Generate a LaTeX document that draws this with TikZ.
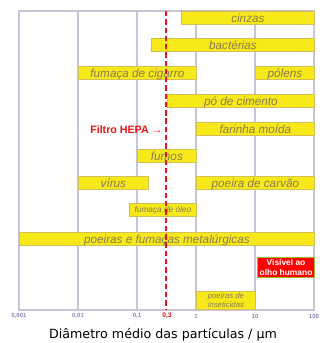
\documentclass[tikz,border=0pt]{standalone}
\usepackage{fontspec}
\setmainfont{Liberation Sans}
\newfontfamily\titlefont{DejaVu Sans}

\definecolor{barfill}{HTML}{F7E81A}
\definecolor{bardraw}{HTML}{D2C158}
\definecolor{bartext}{HTML}{8A7C55}
\definecolor{gridline}{HTML}{C9C3DA}
\definecolor{axistext}{HTML}{8585B5}
\definecolor{hepared}{HTML}{EE1111}
\definecolor{visgreen}{HTML}{9DBB2A}

\begin{document}
\begin{tikzpicture}[
  x=0.75pt, y=-0.75pt,
  barra/.style={rectangle, draw=bardraw, fill=barfill, line width=0.6pt, anchor=north west, inner sep=0pt, minimum height=9.75pt, text height=7.3pt, text depth=0.8pt, font=\fontsize{8.8}{10}\selectfont\itshape, text=bartext},
  grade/.style={draw=gridline, line width=0.9pt},
  eixo/.style={font=\fontsize{4.5}{5}\selectfont\bfseries, text=axistext},
  hepa/.style={draw=hepared, line width=1pt, dash pattern=on 4pt off 2.2pt},
  visivel/.style={rectangle, draw=visgreen, fill=red, line width=0.8pt, anchor=north west, inner sep=0pt, minimum width=42.75pt, minimum height=15pt, align=center, font=\fontsize{6.3}{7.5}\selectfont\bfseries, text=white}
]

\useasboundingbox (0,0) rectangle (320,343);

% Grid of decades
\draw[grade] (19,11) rectangle (314,310);
\draw[grade] (78,11) -- (78,310);
\draw[grade] (137,11) -- (137,310);
\draw[grade] (196,11) -- (196,310);
\draw[grade] (255,11) -- (255,310);

% Particle ranges
\node[barra, minimum width=99.75pt] (cinzas) at (181,11) {cinzas};
\node[barra, minimum width=122.25pt] (bacterias) at (151,38) {bactérias};
\node[barra, minimum width=88.5pt] (cigarro) at (78,66) {fumaça de cigarro};
\node[barra, minimum width=44.25pt] (polens) at (255,66) {pólens};
\node[barra, minimum width=110.25pt] (cimento) at (167,94) {pó de cimento};
\node[barra, minimum width=88.5pt] (farinha) at (196,122) {farinha moída};
\node[barra, minimum width=44.25pt] (fumos) at (137,149) {fumos};
\node[barra, minimum width=52.5pt] (virus) at (78,176) {vírus};
\node[barra, minimum width=88.5pt] (carvao) at (196,176) {poeira de carvão};
\node[barra, minimum width=50.25pt, text height=5.2pt, text depth=0.8pt, font=\fontsize{6.2}{7}\selectfont\itshape] (oleo) at (129,203) {fumaça de óleo};
\node[barra, minimum width=221.25pt] (metal) at (19,232) {poeiras e fumaças metalúrgicas};
\node[barra, minimum width=44.25pt, minimum height=13.5pt, text height=, text depth=, align=center, font=\fontsize{5.8}{6.75}\selectfont\itshape] (inseticidas) at (196,291) {poeiras de\\inseticidas};
\node[visivel] (olho) at (257,257) {Visível ao\\olho humano};

% HEPA filter limit
\draw[hepa] (166,11) -- (166,310);
\node[anchor=west, inner sep=0pt, font=\fontsize{8}{9}\selectfont\bfseries, text=hepared] (filtro) at (90,130) {Filtro HEPA →};

% Axis labels
\node[eixo] (d0001) at (19,316) {0,001};
\node[eixo] (d001) at (78,316) {0,01};
\node[eixo] (d01) at (137,316) {0,1};
\node[eixo, text=hepared, font=\fontsize{5}{6}\selectfont\bfseries] (d03) at (167,316) {0,3};
\node[eixo] (d1) at (196,316) {1};
\node[eixo] (d10) at (255,316) {10};
\node[eixo] (d100) at (314,316) {100};

\node[font=\titlefont\fontsize{9.5}{11}\selectfont] (titulo) at (163,335) {Diâmetro médio das partículas / µm};

\end{tikzpicture}
\end{document}
